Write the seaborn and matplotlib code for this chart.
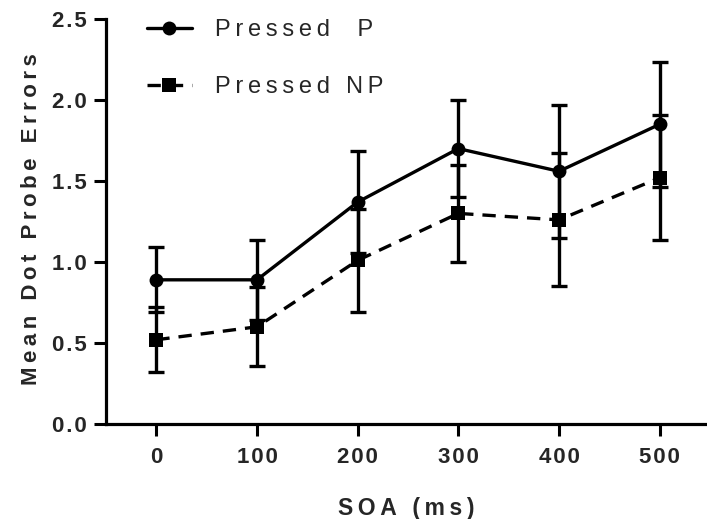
import matplotlib
matplotlib.use("Agg")
import matplotlib.pyplot as plt
import seaborn as sns
import pandas as pd

# Mean dot-probe errors by SOA, with error-bar half widths
soa = [0, 100, 200, 300, 400, 500]
pressed_p = [0.89, 0.89, 1.37, 1.70, 1.56, 1.85]
pressed_p_err = [0.20, 0.245, 0.315, 0.30, 0.41, 0.385]
pressed_np = [0.52, 0.60, 1.01, 1.30, 1.26, 1.52]
pressed_np_err = [0.20, 0.245, 0.32, 0.30, 0.41, 0.385]
series_names = ["Pressed  P", "Pressed NP"]
y_ticks = [0.0, 0.5, 1.0, 1.5, 2.0, 2.5]


def spaced(s, gap="\u2009"):
    """Widen letter spacing by putting a narrow space between characters."""
    return gap.join(s)


sns.set_style("ticks")
plt.rcParams["font.family"] = ["Liberation Sans", "DejaVu Sans"]

df = pd.DataFrame({
    "SOA": soa * 2,
    "Errors": pressed_p + pressed_np,
    "Err": pressed_p_err + pressed_np_err,
    "Condition": [series_names[0]] * len(soa) + [series_names[1]] * len(soa),
})

fig = plt.figure(figsize=(7.07, 5.19), dpi=100)
ax = fig.add_axes([106 / 707, 95 / 519, 601 / 707, 405 / 519])

lw = 2.4
# error bars first so the lines and markers sit on top
for name in series_names:
    sub = df[df["Condition"] == name]
    ax.errorbar(sub["SOA"], sub["Errors"], yerr=sub["Err"], fmt="none",
                ecolor="black", elinewidth=lw, capsize=5.5, capthick=lw, zorder=2)

sns.lineplot(data=df, x="SOA", y="Errors", hue="Condition", style="Condition",
             palette={n: "black" for n in series_names},
             markers={series_names[0]: "o", series_names[1]: "s"},
             dashes={series_names[0]: "", series_names[1]: (4, 2.7)},
             markersize=10, markeredgewidth=0, linewidth=lw, ax=ax, zorder=3)

ax.set_xlim(-50, 547)
ax.set_ylim(0, 2.5)
ax.set_xticks(soa)
ax.set_xticklabels([spaced(str(v), "\u200a") for v in soa])
ax.set_yticks(y_ticks)
ax.set_yticklabels([spaced(f"{v:.1f}", "\u200a") for v in y_ticks])

for lab in ax.get_xticklabels() + ax.get_yticklabels():
    lab.set_fontweight("bold")
    lab.set_fontsize(16)

ax.tick_params(axis="both", direction="out", length=8.5, width=2.2, color="black")
ax.tick_params(axis="y", pad=5)
ax.tick_params(axis="x", pad=8)
for side in ["left", "bottom"]:
    ax.spines[side].set_linewidth(2.3)
    ax.spines[side].set_color("black")
sns.despine(ax=ax)

ax.set_xlabel(spaced("SOA (ms)"), fontsize=16.5, fontweight="bold")
ax.set_ylabel(spaced("Mean Dot Probe Errors"), fontsize=16, fontweight="bold")
ax.xaxis.set_label_coords(0.5, -0.18)
ax.yaxis.set_label_coords(-0.107, 0.506)

handles, labels = ax.get_legend_handles_labels()
leg = ax.legend(handles, [spaced(l) for l in labels], loc="upper left",
                bbox_to_anchor=(0.068, 1.0), frameon=False, fontsize=17,
                handlelength=1.9, handletextpad=1.0, labelspacing=1.5,
                borderpad=0, borderaxespad=0)

fig.savefig("out.png", dpi=100)
